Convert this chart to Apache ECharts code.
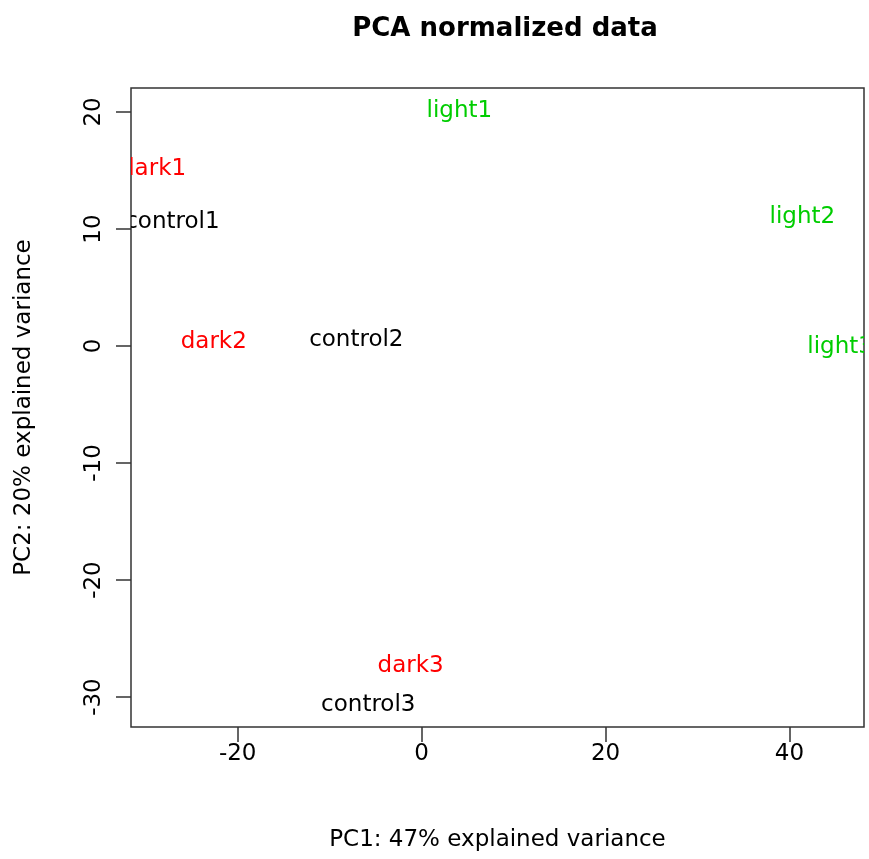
<!DOCTYPE html>
<html>
<head>
<meta charset="utf-8">
<title>PCA normalized data</title>
<script src="https://cdn.jsdelivr.net/npm/echarts@6/dist/echarts.min.js"></script>
<style>
  html, body { margin: 0; padding: 0; background: #fff; }
  #main { width: 869px; height: 859px; }
</style>
</head>
<body>
<div id="main"></div>
<script>
// sample names and their PCA coordinates
var samples = ['light1', 'dark1', 'control1', 'dark2', 'control2', 'light2', 'light3', 'dark3', 'control3'];
var pc1 = [4.1, -29.2, -27.1, -22.6, -7.1, 41.4, 45.5, -1.2, -5.8];
var pc2 = [20.1, 15.1, 10.6, 0.3, 0.5, 11.0, -0.1, -27.35, -30.7];
var groups = ['light', 'dark', 'control', 'dark', 'control', 'light', 'light', 'dark', 'control'];
var xTicks = [-20, 0, 20, 40];
var yTicks = [-30, -20, -10, 0, 10, 20];

var groupColor = { dark: '#ff0000', control: '#000000', light: '#00cd00' };
var font = '"DejaVu Sans", sans-serif';

var chart = echarts.init(document.getElementById('main'));

var points = samples.map(function (s, i) { return [pc1[i], pc2[i]]; });

var option = {
  backgroundColor: '#ffffff',
  animation: false,
  title: {
    text: 'PCA normalized data',
    left: 500,
    top: 11,
    textAlign: 'center',
    textStyle: { fontFamily: font, fontSize: 26, fontWeight: 'bold', color: '#000' }
  },
  grid: {
    left: 131, top: 88, width: 733, height: 639,
    show: true, borderColor: '#333', borderWidth: 1.5, backgroundColor: 'transparent'
  },
  xAxis: {
    type: 'value',
    min: -31.6, max: 48.1,
    name: 'PC1: 47% explained variance',
    nameLocation: 'middle',
    nameGap: 102,
    nameTextStyle: { fontFamily: font, fontSize: 23, color: '#000' },
    axisLine: { show: false, onZero: false },
    splitLine: { show: false },
    axisTick: { show: true, inside: false, length: 15, customValues: xTicks, lineStyle: { color: '#333', width: 1.5 } },
    axisLabel: { customValues: xTicks, margin: 16, fontFamily: font, fontSize: 23, color: '#000' }
  },
  yAxis: {
    type: 'value',
    min: -32.56, max: 22.05,
    name: 'PC2: 20% explained variance',
    nameLocation: 'middle',
    nameGap: 95,
    nameTextStyle: { fontFamily: font, fontSize: 23, color: '#000' },
    axisLine: { show: false, onZero: false },
    splitLine: { show: false },
    axisTick: { show: true, inside: false, length: 15, customValues: yTicks, lineStyle: { color: '#333', width: 1.5 } },
    axisLabel: { customValues: yTicks, rotate: 90, margin: 25, fontFamily: font, fontSize: 23, color: '#000' }
  },
  series: [{
    type: 'custom',
    clip: true,
    data: points,
    renderItem: function (params, api) {
      var p = api.coord([api.value(0), api.value(1)]);
      var i = params.dataIndex;
      return {
        type: 'text',
        x: p[0],
        y: p[1],
        style: {
          text: samples[i],
          fill: groupColor[groups[i]],
          font: '23px ' + font,
          align: 'center',
          verticalAlign: 'middle'
        }
      };
    }
  }]
};

chart.setOption(option);
</script>
</body>
</html>
